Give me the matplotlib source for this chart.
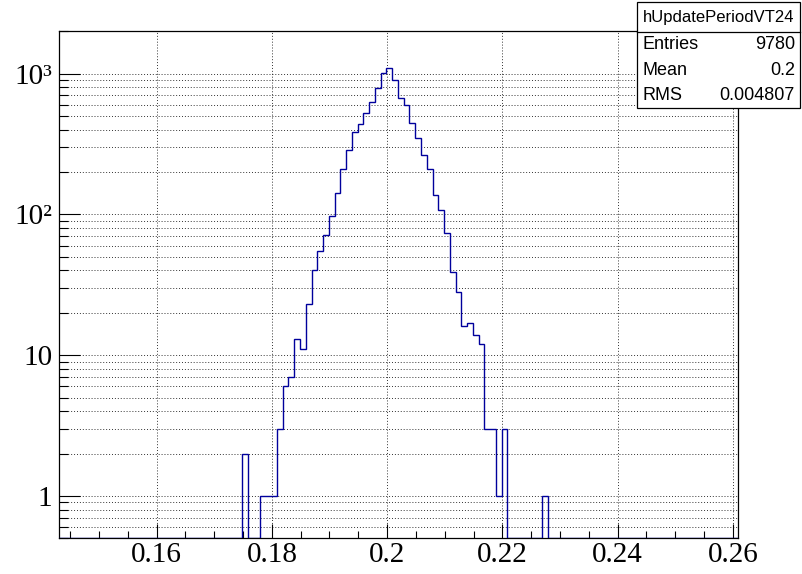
import numpy as np
import matplotlib
matplotlib.use("Agg")
import matplotlib.pyplot as plt
from matplotlib.ticker import FixedLocator, FixedFormatter, MultipleLocator, LogLocator, NullFormatter
from matplotlib.patches import Rectangle
from matplotlib.lines import Line2D

# ---------------- data ----------------
hist_name = "hUpdatePeriodVT24"
bin_start = 0.17488
bin_width = 0.001
counts = [2, 0, 0, 1, 1, 1, 3, 6, 7, 13, 11, 23, 40, 55, 71, 97, 142, 209, 285, 383,
          442, 525, 632, 790, 1010, 1104, 896, 671, 596, 449, 351, 266, 209, 137, 108,
          74, 39, 28, 16, 17, 14, 12, 3, 3, 1, 3, 0, 0, 0, 0, 0, 0, 1]
stats_labels = ["Entries", "Mean", "RMS"]
stats_values = ["9780", "0.2", "0.004807"]
x_range = (0.1431, 0.2609)
y_range = (0.5, 2023)
x_ticks = [0.16, 0.18, 0.20, 0.22, 0.24, 0.26]
x_ticklabels = ["0.16", "0.18", "0.2", "0.22", "0.24", "0.26"]
y_ticks = [1, 10, 100, 1000]
y_ticklabels = ["1", "10", "10\u00b2", "10\u00b3"]

# ---------------- figure ----------------
fig = plt.figure(figsize=(8.02, 5.74), dpi=100)
ax = fig.add_axes([0.0739, 0.0622, 0.8463, 0.8845])

# extend histogram with empty bins across the whole axis range (ROOT draws them at ymin)
n_left = int(np.ceil((bin_start - x_range[0]) / bin_width))
n_right = int(np.ceil((x_range[1] - (bin_start + len(counts) * bin_width)) / bin_width))
full = np.concatenate([np.zeros(n_left), np.array(counts, float), np.zeros(n_right)])
edges = bin_start + bin_width * np.arange(-n_left, len(counts) + n_right + 1)
vals = np.maximum(full, y_range[0])
ax.stairs(vals, edges, baseline=None, color="#00009c", lw=1.0, zorder=3)

ax.set_yscale("log")
ax.set_xlim(*x_range)
ax.set_ylim(*y_range)

ax.xaxis.set_major_locator(FixedLocator(x_ticks))
ax.xaxis.set_major_formatter(FixedFormatter(x_ticklabels))
ax.xaxis.set_minor_locator(MultipleLocator(0.005))
ax.yaxis.set_major_locator(FixedLocator(y_ticks))
ax.yaxis.set_major_formatter(FixedFormatter(y_ticklabels))
ax.yaxis.set_minor_locator(LogLocator(base=10, subs=np.arange(2, 10), numticks=20))
ax.yaxis.set_minor_formatter(NullFormatter())

ax.set_axisbelow(True)
grid_kw = dict(color="black", lw=0.7, ls=(0, (1, 2)), alpha=0.8)
ax.grid(True, which="both", axis="y", **grid_kw)
ax.grid(True, which="major", axis="x", **grid_kw)

for s in ax.spines.values():
    s.set_linewidth(0.9)
    s.set_color("black")

ax.tick_params(axis="x", which="major", direction="in", length=10, width=0.8, pad=3)
ax.tick_params(axis="x", which="minor", direction="in", length=5, width=0.8)
ax.tick_params(axis="y", which="major", direction="in", length=15, width=0.8, pad=5)
ax.tick_params(axis="y", which="minor", direction="in", length=6.5, width=0.8)
for lab in ax.get_xticklabels() + ax.get_yticklabels():
    lab.set_fontfamily("Liberation Serif")
    lab.set_fontsize(21)

# ---------------- stats box ----------------
W, H = 802.0, 574.0
def fx(px):
    return px / W
def fy(py):
    return 1 - py / H

bx0, bx1, by0, by1 = 637.3, 800.0, 1.7, 108.0
fig.patches.append(Rectangle((fx(bx0), fy(by1)), fx(bx1) - fx(bx0), fy(by0) - fy(by1),
                             transform=fig.transFigure, facecolor="white",
                             edgecolor="black", lw=0.9, zorder=10))
fig.lines.append(Line2D([fx(bx0), fx(bx1)], [fy(31.7), fy(31.7)],
                        transform=fig.transFigure, color="black", lw=0.9, zorder=11))
sans = "Liberation Sans"
fig.text(fx((bx0 + bx1) / 2), fy(17.5), hist_name, ha="center", va="center",
         fontsize=12, family=sans, zorder=12)
row_y = [44.5, 70.5, 95.5]
for lab, val, yy in zip(stats_labels, stats_values, row_y):
    fig.text(fx(643), fy(yy), lab, ha="left", va="center", fontsize=13, family=sans, zorder=12)
    fig.text(fx(795), fy(yy), val, ha="right", va="center", fontsize=13, family=sans, zorder=12)

fig.savefig("out.png", dpi=100)
